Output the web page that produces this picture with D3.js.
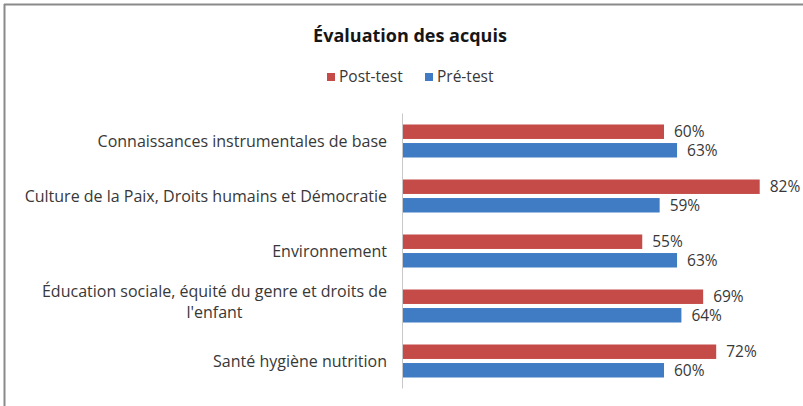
<!doctype html>
<html lang="fr">
<head>
<meta charset="utf-8">
<title>Évaluation des acquis</title>
<style>
    body { margin: 0; background: #fff; }
    svg text { font-family: "Open Sans", "Noto Sans", sans-serif; fill: #383838; }
    .title { font-weight: bold; fill: #161616; }
</style>
</head>
<body>
<svg id="chart" width="803" height="406"></svg>
<script src="https://cdn.jsdelivr.net/npm/d3@7"></script>
<script>

    // data
    let categories = [
        "Connaissances instrumentales de base",
        "Culture de la Paix, Droits humains et Démocratie",
        "Environnement",
        "Éducation sociale, équité du genre et droits de\nl'enfant",
        "Santé hygiène nutrition"
    ];
    let series = ["Post-test", "Pré-test"];
    let postTest = [60, 82, 55, 69, 72];
    let preTest = [63, 59, 63, 64, 60];
    let colors = ["#c44b47", "#3f7cc4"];

    let svg = d3.select("#chart");

    // frame (top + left edge visible in the reference)
    svg.append("line").attr("x1", 4).attr("x2", 803).attr("y1", 4.5).attr("y2", 4.5)
        .attr("stroke", "#8a8a8a").attr("stroke-width", 2);
    svg.append("line").attr("x1", 4.5).attr("x2", 4.5).attr("y1", 4).attr("y2", 406)
        .attr("stroke", "#8a8a8a").attr("stroke-width", 2);

    svg.append("text").attr("class", "title")
        .attr("x", 410).attr("y", 42)
        .attr("text-anchor", "middle")
        .style("font-size", "18px")
        .text("Évaluation des acquis");

    // legend
    let legendX = [327, 425];
    let legend = svg.selectAll("g.legend")
        .data(series).enter()
        .append("g").attr("class", "legend")
        .attr("transform", (d, i) => "translate(" + legendX[i] + ",77)");
    legend.append("rect")
        .attr("x", 0).attr("y", -4).attr("width", 8).attr("height", 8)
        .attr("fill", (d, i) => colors[i]);
    legend.append("text")
        .attr("x", 12).attr("y", 0).attr("dy", "0.35em")
        .style("font-size", "15.5px")
        .text(d => d);

    let x = d3.scaleLinear().domain([0, 100]).range([403, 838]);
    let y = d3.scaleBand().domain(categories).range([113.5, 388.5])
        .paddingInner(0.4).paddingOuter(0.2);
    let yInner = d3.scaleBand().domain(series).range([0, y.bandwidth()]).paddingInner(0.22);

    // vertical axis line
    svg.append("line")
        .attr("x1", 402.5).attr("x2", 402.5)
        .attr("y1", y.range()[0]).attr("y2", y.range()[1])
        .attr("stroke", "#c8c8c8");

    let rows = categories.map((c, i) => ({cat: c, values: [postTest[i], preTest[i]]}));

    let groups = svg.selectAll("g.row")
        .data(rows).enter()
        .append("g").attr("class", "row")
        .attr("transform", d => "translate(0," + y(d.cat) + ")");

    groups.selectAll("rect")
        .data(d => d.values.map((v, j) => ({s: series[j], v: v, j: j})))
        .enter().append("rect")
        .attr("x", x(0))
        .attr("y", d => yInner(d.s))
        .attr("width", d => x(d.v) - x(0))
        .attr("height", yInner.bandwidth())
        .attr("fill", d => colors[d.j]);

    groups.selectAll("text.val")
        .data(d => d.values.map((v, j) => ({s: series[j], v: v})))
        .enter().append("text").attr("class", "val")
        .attr("x", d => x(d.v) + 10)
        .attr("y", d => yInner(d.s) + yInner.bandwidth() / 2)
        .attr("dy", "0.35em")
        .style("font-size", "15.5px")
        .text(d => d.v + "%");

    // category labels, right aligned block, centred lines
    let labelRight = 387;
    groups.each(function (d) {
        let lines = d.cat.split("\n");
        let g = d3.select(this);
        let lh = 21;
        let top = y.bandwidth() / 2 - (lines.length - 1) * lh / 2 - (lines.length > 1 ? 4 : 0);
        let texts = lines.map((l, k) => g.append("text")
            .attr("text-anchor", "middle")
            .attr("y", top + k * lh).attr("dy", "0.35em")
            .style("font-size", "16px")
            .text(l));
        let w = d3.max(texts, t => t.node().getComputedTextLength());
        texts.forEach(t => t.attr("x", labelRight - w / 2));
    });

</script>
</body>
</html>
